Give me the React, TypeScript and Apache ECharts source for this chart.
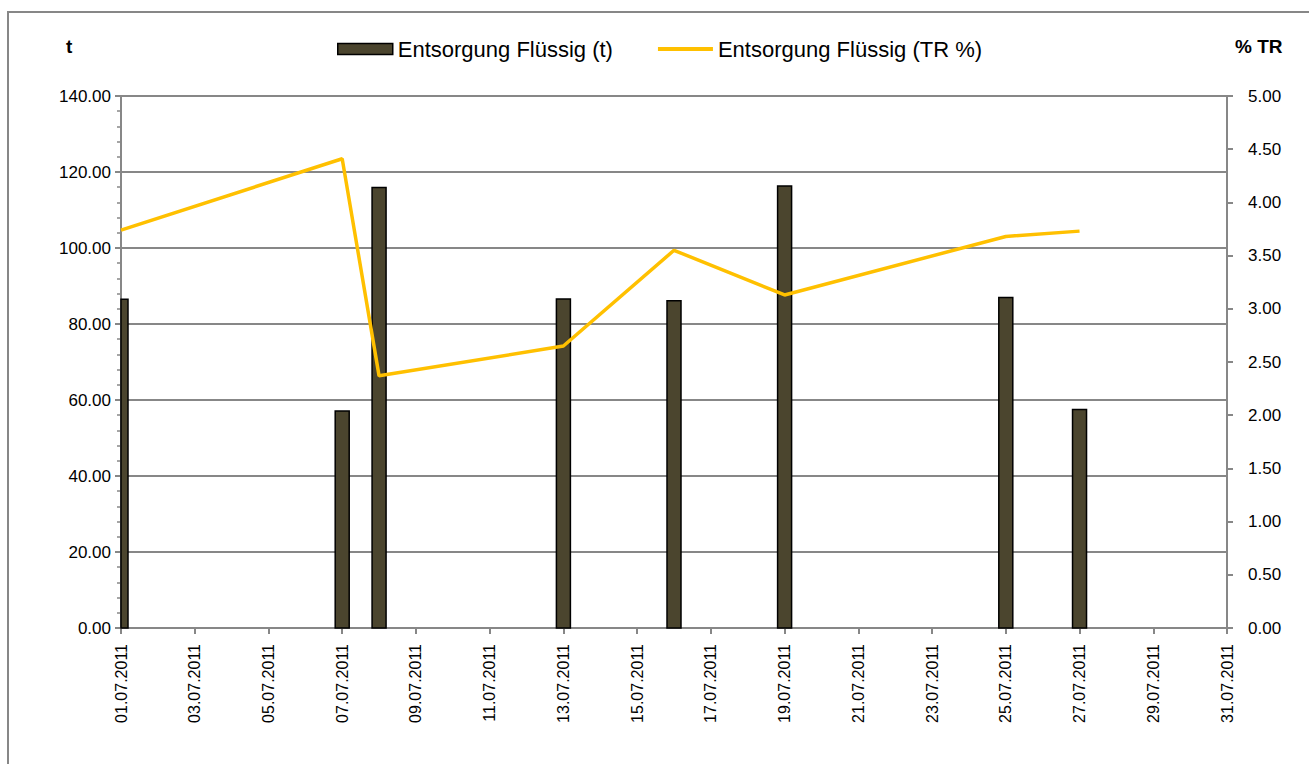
import React, { useEffect, useRef } from "react";
import * as echarts from "echarts";

const dates = [
  "01.07.2011", "02.07.2011", "03.07.2011", "04.07.2011", "05.07.2011", "06.07.2011",
  "07.07.2011", "08.07.2011", "09.07.2011", "10.07.2011", "11.07.2011", "12.07.2011",
  "13.07.2011", "14.07.2011", "15.07.2011", "16.07.2011", "17.07.2011", "18.07.2011",
  "19.07.2011", "20.07.2011", "21.07.2011", "22.07.2011", "23.07.2011", "24.07.2011",
  "25.07.2011", "26.07.2011", "27.07.2011", "28.07.2011", "29.07.2011", "30.07.2011",
  "31.07.2011",
];

const measuredDates = [
  "01.07.2011", "07.07.2011", "08.07.2011", "13.07.2011",
  "16.07.2011", "19.07.2011", "25.07.2011", "27.07.2011",
];
const tonnes = [86.5, 57.1, 115.9, 86.6, 86.1, 116.3, 87.0, 57.5];
const trPercent = [3.74, 4.41, 2.37, 2.65, 3.55, 3.13, 3.68, 3.73];

const barName = "Entsorgung Flüssig (t)";
const lineName = "Entsorgung Flüssig (TR %)";

const FONT = "'Liberation Sans', Arial, sans-serif";
const GRAY = "#878787";
const BAR_COLOR = "#4B452E";
const LINE_COLOR = "#FFC000";
const BAR_WIDTH = 14;

export default function App() {
  const ref = useRef<HTMLDivElement>(null);

  useEffect(() => {
    if (!ref.current) return;
    const chart = echarts.init(ref.current, undefined, { renderer: "svg" });
    chart.setOption({
      animation: false,
      backgroundColor: "#ffffff",
      textStyle: { fontFamily: FONT },
      graphic: [
        {
          type: "rect",
          shape: { x: 8, y: 12, width: 1400, height: 800 },
          style: { fill: "none", stroke: GRAY, lineWidth: 2 },
          silent: true,
        },
        {
          type: "text",
          left: 66,
          top: 37,
          style: { text: "t", font: `bold 19px ${FONT}`, fill: "#000" },
        },
        {
          type: "text",
          left: 1235,
          top: 37,
          style: { text: "% TR", font: `bold 19px ${FONT}`, fill: "#000" },
        },
      ],
      legend: {
        left: 332,
        top: 33,
        itemWidth: 55,
        itemHeight: 11,
        itemGap: 45,
        textStyle: { fontSize: 22, color: "#000", fontFamily: FONT },
        data: [
          { name: barName, icon: "rect", itemStyle: { color: BAR_COLOR, borderColor: "#000", borderWidth: 1.5 } },
          { name: lineName, icon: "path://M0,0 L57,0 L57,4 L0,4 Z", itemStyle: { color: LINE_COLOR, borderWidth: 0 } },
        ],
      },
      grid: { left: 121, right: 82, top: 96, bottom: 136 },
      xAxis: {
        type: "category",
        data: dates,
        boundaryGap: false,
        axisLine: { lineStyle: { color: GRAY, width: 2 } },
        axisTick: {
          interval: 1,
          length: 6,
          lineStyle: { color: GRAY, width: 2 },
        },
        axisLabel: {
          interval: 1,
          rotate: 90,
          margin: 16,
          fontSize: 16,
          color: "#000",
          fontFamily: FONT,
        },
        splitLine: { show: false },
      },
      yAxis: [
        {
          type: "value",
          min: 0,
          max: 140,
          interval: 20,
          position: "left",
          axisLine: { show: true, lineStyle: { color: GRAY, width: 2 } },
          axisTick: { show: true, length: 6, lineStyle: { color: GRAY, width: 2 } },
          minorTick: { show: true, splitNumber: 5, length: 4, lineStyle: { color: GRAY, width: 1.5 } },
          axisLabel: {
            formatter: (v: number) => v.toFixed(2),
            fontSize: 17,
            color: "#000",
            margin: 10,
            fontFamily: FONT,
          },
          splitLine: { show: true, lineStyle: { color: GRAY, width: 2 } },
        },
        {
          type: "value",
          min: 0,
          max: 5,
          interval: 0.5,
          position: "right",
          axisLine: { show: true, lineStyle: { color: GRAY, width: 2 } },
          axisTick: { show: true, length: 6, lineStyle: { color: GRAY, width: 2 } },
          axisLabel: {
            formatter: (v: number) => v.toFixed(2),
            fontSize: 17,
            color: "#000",
            margin: 21,
            fontFamily: FONT,
          },
          splitLine: { show: false },
        },
      ],
      series: [
        {
          name: barName,
          type: "custom",
          yAxisIndex: 0,
          itemStyle: { color: BAR_COLOR, borderColor: "#000", borderWidth: 1.5 },
          encode: { x: 0, y: 1 },
          renderItem: (params: any, api: any) => {
            const top = api.coord([api.value(0), api.value(1)]);
            const base = api.coord([api.value(0), 0]);
            const rect = echarts.graphic.clipRectByRect(
              {
                x: top[0] - BAR_WIDTH / 2,
                y: top[1],
                width: BAR_WIDTH,
                height: base[1] - top[1],
              },
              {
                x: params.coordSys.x,
                y: params.coordSys.y,
                width: params.coordSys.width,
                height: params.coordSys.height,
              }
            );
            if (!rect) return null;
            return {
              type: "rect",
              shape: rect,
              style: { fill: BAR_COLOR, stroke: "#000", lineWidth: 1.5 },
            };
          },
          data: measuredDates.map((d, i) => [d, tonnes[i]]),
        },
        {
          name: lineName,
          type: "line",
          yAxisIndex: 1,
          symbol: "none",
          z: 3,
          lineStyle: { color: LINE_COLOR, width: 3.5 },
          itemStyle: { color: LINE_COLOR },
          data: measuredDates.map((d, i) => [d, trPercent[i]]),
        },
      ],
    });
    return () => chart.dispose();
  }, []);

  return (
    <div
      ref={ref}
      style={{ position: "absolute", left: 0, top: 0, width: 1309, height: 764 }}
    />
  );
}
